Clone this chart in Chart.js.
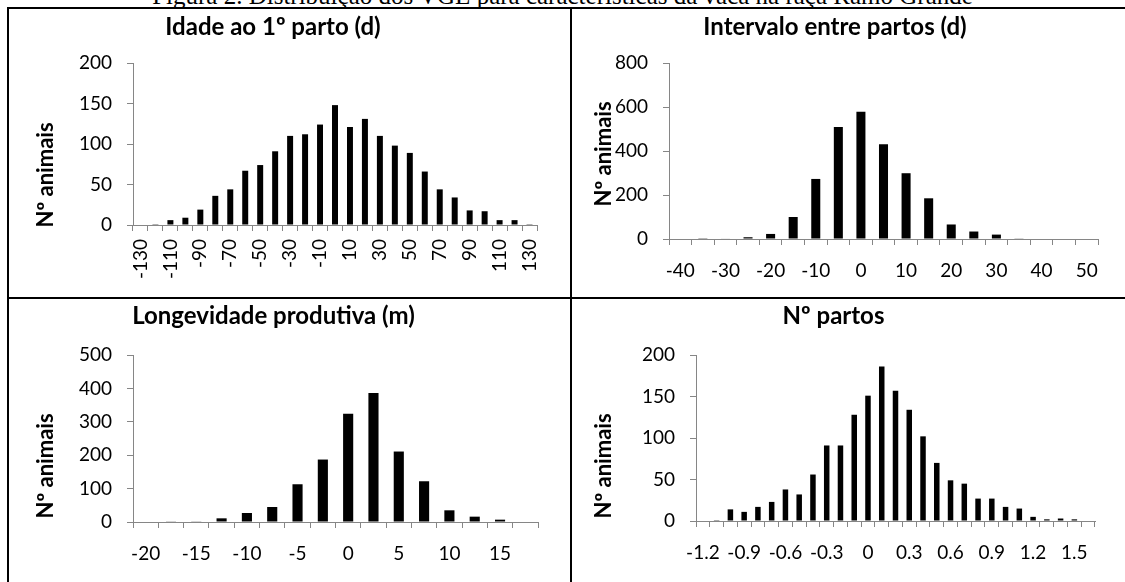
<!DOCTYPE html>
<html>
<head>
<meta charset="utf-8">
<script src="https://cdn.jsdelivr.net/npm/chart.js@4.4.0/dist/chart.umd.min.js"></script>
<style>
  html, body { margin: 0; padding: 0; background: #fff; }
  body { width: 1125px; height: 582px; position: relative; overflow: hidden; }
  .caption { position: absolute; left: 0; width: 1125px; top: -14px; text-align: center;
             font-family: "Liberation Serif", serif; font-size: 25px; line-height: 20px; white-space: nowrap; color: #000; }
  .line { position: absolute; background: #000; }
  .panel { position: absolute; }
</style>
</head>
<body>
<div class="caption">Figura 2. Distribuição dos VGE para características da vaca na raça Ramo Grande</div>
<div class="line" style="left:7px;top:7px;width:1118px;height:2px"></div>
<div class="line" style="left:7px;top:7px;width:2px;height:575px"></div>
<div class="line" style="left:570px;top:7px;width:2px;height:575px"></div>
<div class="line" style="left:7px;top:297px;width:1118px;height:2px"></div>
<div class="panel" style="left:9px;top:9px;width:561px;height:288px"><canvas id="c1"></canvas></div>
<div class="panel" style="left:572px;top:9px;width:553px;height:288px"><canvas id="c2"></canvas></div>
<div class="panel" style="left:9px;top:299px;width:561px;height:283px"><canvas id="c3"></canvas></div>
<div class="panel" style="left:572px;top:299px;width:553px;height:283px"><canvas id="c4"></canvas></div>
<script>
// Idade ao 1º parto (d)
const idadeCats = [-130, -120, -110, -100, -90, -80, -70, -60, -50, -40, -30, -20, -10, 0,
  10, 20, 30, 40, 50, 60, 70, 80, 90, 100, 110, 120, 130];
const idadeValues = [0, 1, 6, 9, 19, 36, 44, 67, 74, 91, 110, 112, 124, 148,
  121, 131, 110, 98, 89, 66, 44, 34, 18, 17, 6, 6, 1];
const idadeTicks = ['-130', '-110', '-90', '-70', '-50', '-30', '-10', '10', '30', '50', '70', '90', '110', '130'];

// Intervalo entre partos (d)
const intervaloCats = [-40, -35, -30, -25, -20, -15, -10, -5, 0, 5, 10, 15, 20, 25, 30, 35, 40, 45, 50];
const intervaloValues = [0, 1, 2, 8, 23, 100, 273, 509, 578, 431, 299, 185, 66, 34, 20, 3, 0, 0, 0];
const intervaloTicks = ['-40', '-30', '-20', '-10', '0', '10', '20', '30', '40', '50'];

// Longevidade produtiva (m)
const longCats = [-20, -17.5, -15, -12.5, -10, -7.5, -5, -2.5, 0, 2.5, 5, 7.5, 10, 12.5, 15, 17.5];
const longValues = [0, 1, 2, 11, 27, 45, 113, 187, 324, 386, 211, 122, 35, 16, 7, 0];
const longTicks = ['-20', '-15', '-10', '-5', '0', '5', '10', '15'];

// Nº partos
const partosCats = ['-1.2', '-1.1', '-1', '-0.9', '-0.8', '-0.7', '-0.6', '-0.5', '-0.4', '-0.3',
  '-0.2', '-0.1', '0', '0.1', '0.2', '0.3', '0.4', '0.5', '0.6', '0.7', '0.8', '0.9',
  '1', '1.1', '1.2', '1.3', '1.4', '1.5', '1.6'];
const partosValues = [0, 1, 14, 11, 17, 23, 38, 32, 56, 91, 91, 128, 151, 186, 157, 134,
  102, 70, 49, 45, 27, 27, 17, 15, 5, 2, 3, 2, 0];
const partosTicks = ['-1.2', '-0.9', '-0.6', '-0.3', '0', '0.3', '0.6', '0.9', '1.2', '1.5'];

const axisGrey = '#868686';
const FONT = 'Lato';
const TITLE_SIZE = 24;
const YTITLE_SIZE = 22;
const TICK_SIZE = 19;

// draws the rotated "Nº animais" title where Excel put it
const yTitlePlugin = {
  id: 'yTitle',
  afterDraw(chart, args, opts) {
    const ctx = chart.ctx;
    ctx.save();
    ctx.translate(opts.x, opts.y);
    ctx.rotate(-Math.PI / 2);
    ctx.font = 'bold ' + YTITLE_SIZE + 'px ' + FONT;
    ctx.fillStyle = '#000';
    ctx.textAlign = 'center';
    ctx.textBaseline = 'middle';
    ctx.fillText(opts.text, 0, 0);
    ctx.restore();
  }
};

function histogram(id, o) {
  const canvas = document.getElementById(id);
  const W = canvas.parentNode.clientWidth;
  const H = canvas.parentNode.clientHeight;
  const a = o.area;
  const titleLH = TITLE_SIZE * 1.2;
  const labelLH = TICK_SIZE * 1.2;

  return new Chart(canvas, {
    type: 'bar',
    data: {
      labels: o.cats.map(String),
      datasets: [{
        data: o.values,
        backgroundColor: '#000',
        borderWidth: 0,
        barPercentage: 0.4,
        categoryPercentage: 1
      }]
    },
    options: {
      responsive: true,
      maintainAspectRatio: false,
      animation: false,
      layout: { padding: { left: 0, right: W - a.right, top: 0, bottom: 0 } },
      plugins: {
        legend: { display: false },
        tooltip: { enabled: false },
        title: {
          display: true,
          text: o.title,
          color: '#000',
          font: { family: FONT, size: TITLE_SIZE, weight: 'bold', lineHeight: 1.2 },
          padding: { top: o.titleY - titleLH / 2, bottom: a.top - o.titleY - titleLH / 2 }
        },
        yTitle: { text: 'Nº animais', x: o.yTitle[0], y: o.yTitle[1] }
      },
      scales: {
        x: {
          offset: true,
          grid: { offset: true, drawOnChartArea: false, drawTicks: true, tickLength: 6, color: axisGrey },
          border: { color: axisGrey },
          ticks: {
            autoSkip: false,
            minRotation: o.rotate ? 90 : 0,
            maxRotation: o.rotate ? 90 : 0,
            padding: o.rotate ? o.labelGap : o.labelGap - labelLH / 2,
            color: '#000',
            font: { family: FONT, size: TICK_SIZE },
            callback: function(value) {
              const l = this.getLabelForValue(value);
              return o.ticks.includes(l) ? l : '';
            }
          },
          afterFit: s => { s.height = H - a.bottom; }
        },
        y: {
          min: 0,
          max: o.max,
          grid: { drawOnChartArea: false, drawTicks: true, tickLength: 6, color: axisGrey },
          border: { color: axisGrey },
          ticks: { stepSize: o.step, padding: 15, color: '#000', font: { family: FONT, size: TICK_SIZE } },
          afterFit: s => { s.width = a.left; }
        }
      }
    },
    plugins: [yTitlePlugin]
  });
}

histogram('c1', {
  cats: idadeCats, values: idadeValues, ticks: idadeTicks,
  title: 'Idade ao 1º parto (d)', max: 200, step: 50, rotate: true,
  area: { left: 124, right: 528, top: 54, bottom: 216 }, titleY: 18, labelGap: 8, yTitle: [37, 166]
});
histogram('c2', {
  cats: intervaloCats, values: intervaloValues, ticks: intervaloTicks,
  title: 'Intervalo entre partos (d)', max: 800, step: 200, rotate: false,
  area: { left: 97, right: 526, top: 54, bottom: 230 }, titleY: 18, labelGap: 26, yTitle: [32, 145]
});
histogram('c3', {
  cats: longCats, values: longValues, ticks: longTicks,
  title: 'Longevidade produtiva (m)', max: 500, step: 100, rotate: false,
  area: { left: 124, right: 529, top: 56, bottom: 223 }, titleY: 17, labelGap: 26, yTitle: [37, 167]
});
histogram('c4', {
  cats: partosCats, values: partosValues, ticks: partosTicks,
  title: 'Nº partos', max: 200, step: 50, rotate: false,
  area: { left: 124, right: 523, top: 56, bottom: 222 }, titleY: 17, labelGap: 26, yTitle: [32, 167]
});
</script>
</body>
</html>
